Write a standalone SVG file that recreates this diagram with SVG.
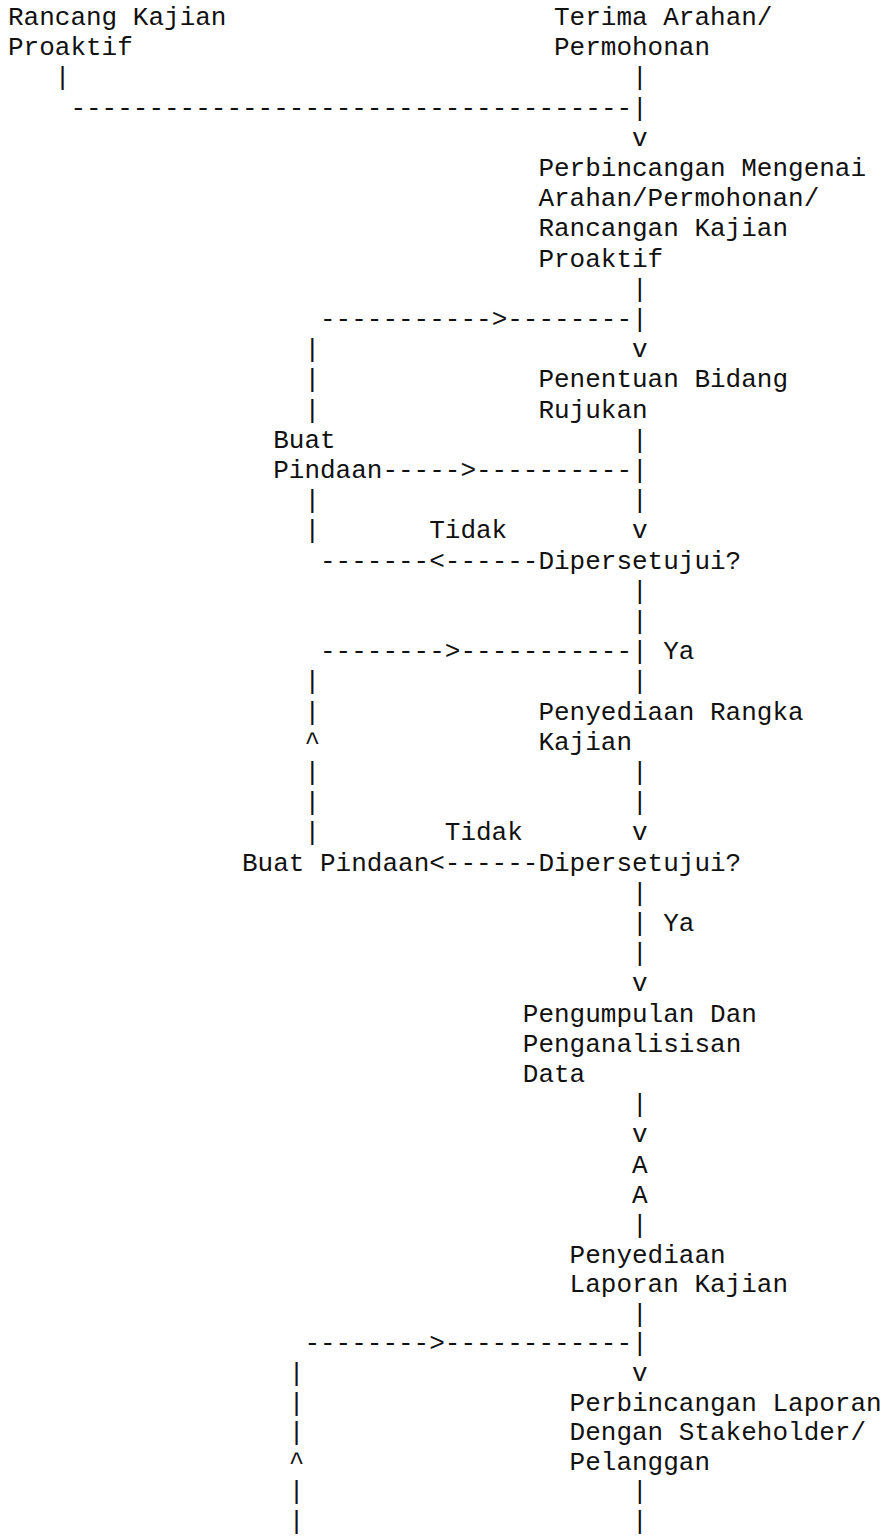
<svg xmlns="http://www.w3.org/2000/svg" width="892" height="1536" viewBox="0 0 892 1536" xml:space="preserve">
<style>
text { font-family: "Liberation Mono", "Courier New", monospace; font-size: 26px; fill: #111; white-space: pre; }
</style>
<rect width="892" height="1536" fill="#fff"/>
<g id="connectors">
<text x="54.8" y="85.4">|</text><text x="632" y="85.4">|</text>
<text x="70.4" y="115.6">------------------------------------|</text>
<text x="632" y="145.8">v</text>
<text x="632" y="296.8">|</text>
<text x="320" y="327">-----------&gt;--------|</text>
<text x="304.4" y="357.2">|</text><text x="632" y="357.2">v</text>
<text x="304.4" y="387.4">|</text>
<text x="304.4" y="417.6">|</text>
<text x="632" y="447.8">|</text>
<text x="382.4" y="478">-----&gt;----------|</text>
<text x="304.4" y="508.2">|</text><text x="632" y="508.2">|</text>
<text x="304.4" y="538.4">|</text><text x="429.2" y="538.4">Tidak</text><text x="632" y="538.4">v</text>
<text x="320" y="568.6">-------&lt;------</text>
<text x="632" y="598.8">|</text>
<text x="632" y="629">|</text>
<text x="320" y="659.2">--------&gt;-----------| Ya</text>
<text x="304.4" y="689.4">|</text><text x="632" y="689.4">|</text>
<text x="304.4" y="719.6">|</text>
<text x="304.4" y="749.8">^</text>
<text x="304.4" y="780">|</text><text x="632" y="780">|</text>
<text x="304.4" y="810.2">|</text><text x="632" y="810.2">|</text>
<text x="304.4" y="840.4">|</text><text x="444.8" y="840.4">Tidak</text><text x="632" y="840.4">v</text>
<text x="429.2" y="870.6">&lt;------</text>
<text x="632" y="900.8">|</text>
<text x="632" y="931">| Ya</text>
<text x="632" y="961.2">|</text>
<text x="632" y="991.4">v</text>
<text x="632" y="1112.2">|</text>
<text x="632" y="1142.4">v</text>
<text x="632" y="1233">|</text>
<text x="632" y="1321.8">|</text>
<text x="304.4" y="1351.4">--------&gt;------------|</text>
<text x="288.8" y="1381">|</text><text x="632" y="1381">v</text>
<text x="288.8" y="1410.6">|</text>
<text x="288.8" y="1440.2">|</text>
<text x="288.8" y="1469.8">^</text>
<text x="288.8" y="1499.4">|</text><text x="632" y="1499.4">|</text>
<text x="288.8" y="1529">|</text><text x="632" y="1529">|</text>
</g>
<g id="n-rancang-kajian"><text x="8" y="25">Rancang Kajian</text><text x="8" y="55.2">Proaktif</text></g>
<g id="n-terima-arahan"><text x="554" y="25">Terima Arahan/</text><text x="554" y="55.2">Permohonan</text></g>
<g id="n-perbincangan-mengenai"><text x="538.4" y="176">Perbincangan Mengenai</text><text x="538.4" y="206.2">Arahan/Permohonan/</text><text x="538.4" y="236.4">Rancangan Kajian</text><text x="538.4" y="266.6">Proaktif</text></g>
<g id="n-penentuan-bidang"><text x="538.4" y="387.4">Penentuan Bidang</text><text x="538.4" y="417.6">Rujukan</text></g>
<g id="n-buat-pindaan-1"><text x="273.2" y="447.8">Buat</text><text x="273.2" y="478">Pindaan</text></g>
<g id="n-dipersetujui-1"><text x="538.4" y="568.6">Dipersetujui?</text></g>
<g id="n-penyediaan-rangka"><text x="538.4" y="719.6">Penyediaan Rangka</text><text x="538.4" y="749.8">Kajian</text></g>
<g id="n-buat-pindaan-2"><text x="242" y="870.6">Buat Pindaan</text></g>
<g id="n-dipersetujui-2"><text x="538.4" y="870.6">Dipersetujui?</text></g>
<g id="n-pengumpulan"><text x="522.8" y="1021.6">Pengumpulan Dan</text><text x="522.8" y="1051.8">Penganalisisan</text><text x="522.8" y="1082">Data</text></g>
<g id="n-connector-a1"><text x="632" y="1172.6">A</text></g>
<g id="n-connector-a2"><text x="632" y="1202.8">A</text></g>
<g id="n-penyediaan-laporan"><text x="569.6" y="1262.6">Penyediaan</text><text x="569.6" y="1292.2">Laporan Kajian</text></g>
<g id="n-perbincangan-laporan"><text x="569.6" y="1410.6">Perbincangan Laporan</text><text x="569.6" y="1440.2">Dengan Stakeholder/</text><text x="569.6" y="1469.8">Pelanggan</text></g>
</svg>
